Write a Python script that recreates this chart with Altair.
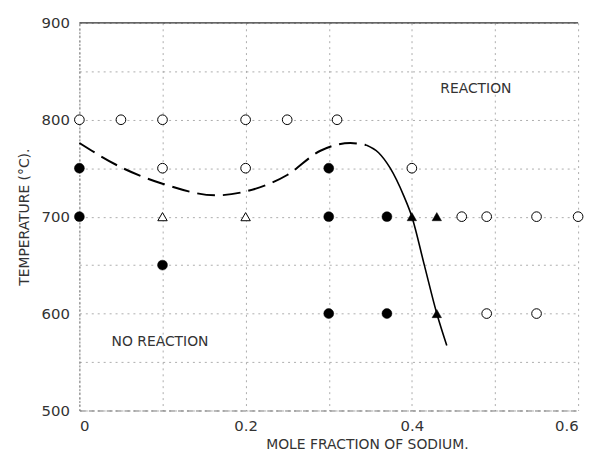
import altair as alt
import pandas as pd

# ---- data ----
open_circle_x = [0, 0.05, 0.1, 0.2, 0.25, 0.31, 0.1, 0.2, 0.4, 0.46, 0.49, 0.55, 0.6, 0.49, 0.55]
open_circle_t = [800, 800, 800, 800, 800, 800, 750, 750, 750, 700, 700, 700, 700, 600, 600]

filled_circle_x = [0, 0.3, 0, 0.3, 0.37, 0.1, 0.3, 0.37]
filled_circle_t = [750, 750, 700, 700, 700, 650, 600, 600]

open_tri_x = [0.1, 0.2]
open_tri_t = [700, 700]

filled_tri_x = [0.4, 0.43, 0.43]
filled_tri_t = [700, 700, 600]

dashed_x = [0, 0.05, 0.1, 0.165, 0.2, 0.25, 0.29, 0.326, 0.345]
dashed_t = [776, 751, 734, 722, 726, 743, 768, 776, 774]

solid_x = [0.345, 0.36, 0.374, 0.39, 0.40, 0.415, 0.43, 0.442]
solid_t = [774, 766, 750, 722, 700, 650, 600, 567]

x_ticks = [0, 0.1, 0.2, 0.3, 0.4, 0.5, 0.6]
y_ticks = [500, 550, 600, 650, 700, 750, 800, 850, 900]

labels_text = ["REACTION", "NO REACTION"]
labels_x = [0.477, 0.097]
labels_t = [832, 571]

FONT = "DejaVu Sans"
TXT = "#333333"

xscale = alt.Scale(domain=[0, 0.6], nice=False, zero=False)
yscale = alt.Scale(domain=[500, 900], nice=False, zero=False)

xaxis = alt.Axis(
    values=x_ticks,
    labelExpr="round(datum.value*10) % 2 == 0 ? (datum.value == 0 ? '0' : format(datum.value, '.1f')) : ''",
    title="MOLE FRACTION OF SODIUM.",
    ticks=False,
    labelPadding=8,
    titlePadding=4,
    grid=True,
    gridColor="#999999",
    gridDash=[2, 4],
    gridWidth=0.8,
    domainColor="#777777",
    domainDash=[6, 3],
    labelFont=FONT, labelFontSize=15, labelColor=TXT,
    titleFont=FONT, titleFontSize=14, titleFontWeight="normal", titleColor=TXT,
    titleX=290,
)
yaxis = alt.Axis(
    values=y_ticks,
    labelExpr="datum.value % 100 == 0 ? datum.label : ''",
    format="d",
    title="TEMPERATURE (°C).",
    ticks=False,
    labelPadding=10,
    titlePadding=10,
    grid=True,
    gridColor="#999999",
    gridDash=[2, 4],
    gridWidth=0.8,
    domainColor="#777777",
    domainDash=[2, 2],
    labelFont=FONT, labelFontSize=15, labelColor=TXT,
    titleFont=FONT, titleFontSize=14, titleFontWeight="normal", titleColor=TXT,
)

X = alt.X("x:Q", scale=xscale, axis=xaxis)
Y = alt.Y("t:Q", scale=yscale, axis=yaxis)

df_oc = pd.DataFrame({"x": open_circle_x, "t": open_circle_t})
df_fc = pd.DataFrame({"x": filled_circle_x, "t": filled_circle_t})
df_ot = pd.DataFrame({"x": open_tri_x, "t": open_tri_t})
df_ft = pd.DataFrame({"x": filled_tri_x, "t": filled_tri_t})
df_d = pd.DataFrame({"x": dashed_x, "t": dashed_t})
df_s = pd.DataFrame({"x": solid_x, "t": solid_t})
df_lab = pd.DataFrame({"x": labels_x, "t": labels_t, "label": labels_text})
df_top = pd.DataFrame({"x": [x_ticks[0]], "x2": [x_ticks[-1]], "t": [y_ticks[-1]]})

base_x = alt.X("x:Q", scale=xscale)
base_y = alt.Y("t:Q", scale=yscale)

top = alt.Chart(df_top).mark_rule(color="#333333", strokeWidth=1.2).encode(
    x=X, x2="x2:Q", y=Y
)

dashed = alt.Chart(df_d).mark_line(
    color="black", strokeWidth=2, strokeDash=[18, 8], interpolate="monotone"
).encode(x=base_x, y=base_y)

solid = alt.Chart(df_s).mark_line(
    color="black", strokeWidth=1.6, interpolate="monotone"
).encode(x=base_x, y=base_y)

oc = alt.Chart(df_oc).mark_point(
    shape="circle", size=95, filled=True, fill="white", stroke="black", strokeWidth=1, opacity=1
).encode(x=base_x, y=base_y)

fc = alt.Chart(df_fc).mark_point(
    shape="circle", size=100, filled=True, fill="black", stroke="black", strokeWidth=0.5, opacity=1
).encode(x=base_x, y=base_y)

ot = alt.Chart(df_ot).mark_point(
    shape="triangle-up", size=90, filled=True, fill="white", stroke="black", strokeWidth=1, opacity=1
).encode(x=base_x, y=base_y)

ft = alt.Chart(df_ft).mark_point(
    shape="triangle-up", size=90, filled=True, fill="black", stroke="black", strokeWidth=0.5, opacity=1
).encode(x=base_x, y=base_y)

labs = alt.Chart(df_lab).mark_text(
    font=FONT, fontSize=14, color=TXT, align="center", baseline="middle"
).encode(x=base_x, y=base_y, text="label:N")

chart = alt.layer(top, dashed, solid, oc, fc, ot, ft, labs).properties(
    width=503,
    height=391,
    autosize=alt.AutoSizeParams(type="none"),
    padding={"left": 72, "top": 13, "right": 12, "bottom": 50},
    background="white",
).configure_view(stroke=None)

chart.save("out.html", embed_options={"renderer": "svg", "actions": False})
